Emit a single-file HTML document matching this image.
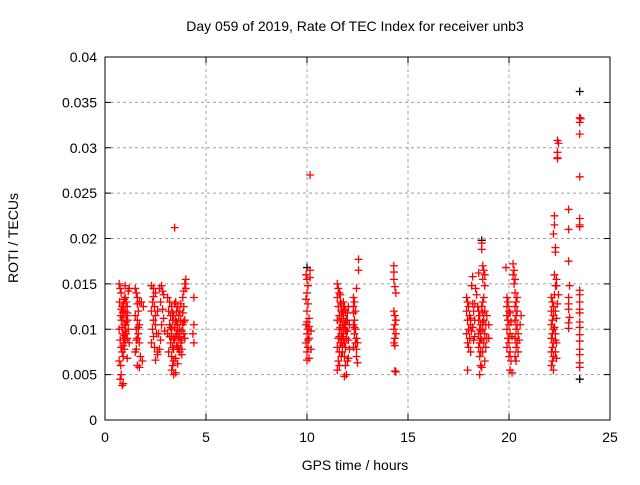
<!DOCTYPE html>
<html><head><meta charset="utf-8"><style>
body{margin:0;background:#fff;}
svg text{font-family:"Liberation Sans",sans-serif;fill:#000;}
</style></head><body>
<svg id="chart" width="640" height="480" xmlns="http://www.w3.org/2000/svg">
<rect width="640" height="480" fill="#fff"/>
<text x="355" y="31" font-size="14" text-anchor="middle">Day 059 of 2019, Rate Of TEC Index for receiver unb3</text>
<text x="355" y="470" font-size="14" text-anchor="middle">GPS time / hours</text>
<text transform="translate(18,238) rotate(-90)" font-size="14" text-anchor="middle">ROTI / TECUs</text>
<g id="grid"></g>
<g id="ticks"></g>
<g id="bpts"></g>
<g id="pts"></g>
<rect x="105" y="57" width="505" height="363" fill="none" stroke="#000" stroke-width="1"/>
</svg>
<script>
const xTicks=[0,5,10,15,20,25];
const yTicks=[0,0.005,0.01,0.015,0.02,0.025,0.03,0.035,0.04];
const yTickLabels=["0","0.005","0.01","0.015","0.02","0.025","0.03","0.035","0.04"];
// red points: [hour, roti]
const redPoints=[
[0.7,0.015],[0.75,0.0145],[0.8,0.014],[0.72,0.013],[0.85,0.0125],[0.9,0.012],[0.78,0.0115],[0.82,0.011],[0.95,0.0105],[0.7,0.010],[0.88,0.0095],[0.92,0.009],[0.75,0.0088],[1.0,0.0135],[1.05,0.013],[1.1,0.0125],[1.0,0.012],[1.08,0.0115],[1.12,0.011],[1.02,0.0105],[1.15,0.010],[1.05,0.0095],[1.1,0.009],[0.98,0.0085],[0.8,0.008],[0.85,0.0075],[0.9,0.007],[0.7,0.0065],[0.78,0.006],[0.8,0.005],[0.75,0.0045],[0.85,0.0038],[0.9,0.004],[1.2,0.0145],[1.2,0.0085],[1.0,0.0148],[0.95,0.0078],[1.1,0.0068],[1.15,0.0142],[0.88,0.0118],[1.0,0.0098],[0.92,0.0128],
[0.95,0.0133],[0.9,0.0113],[0.95,0.0093],[1.05,0.0108],[0.85,0.0102],[1.0,0.0088],[0.9,0.0082],[0.8,0.0122],[1.1,0.0118],
[1.5,0.0145],[1.55,0.014],[1.6,0.0135],[1.7,0.013],[1.65,0.012],[1.5,0.0115],[1.6,0.011],[1.7,0.0105],[1.55,0.010],[1.65,0.0095],[1.6,0.009],[1.7,0.0085],[1.5,0.0075],[1.75,0.007],[1.6,0.006],[1.7,0.0058],[1.8,0.013],[1.9,0.0125],[1.85,0.0065],[1.55,0.0078],[1.6,0.0128],[1.65,0.0102],[1.55,0.0088],
[2.3,0.0148],[2.4,0.0145],[2.5,0.014],[2.35,0.013],[2.45,0.0125],[2.3,0.012],[2.5,0.0115],[2.4,0.011],[2.35,0.010],[2.55,0.0095],[2.3,0.0085],[2.45,0.008],[2.6,0.0075],[2.7,0.0078],[2.8,0.0148],[2.7,0.0145],[2.75,0.013],[2.6,0.012],[2.8,0.0105],[2.65,0.0095],[2.75,0.0088],[2.85,0.0142],[2.5,0.0066],[2.6,0.0072],[2.4,0.0136],[2.9,0.0138],[2.85,0.0122],[2.9,0.0112],[2.95,0.0098],[2.5,0.0105],[2.4,0.0092],
[3.1,0.0135],[3.2,0.013],[3.3,0.0125],[3.15,0.012],[3.25,0.0115],[3.35,0.011],[3.2,0.0105],[3.3,0.010],[3.1,0.0095],[3.4,0.009],[3.25,0.0085],[3.35,0.008],[3.15,0.0075],[3.3,0.007],[3.4,0.0065],[3.35,0.006],[3.3,0.0055],[3.4,0.005],[3.5,0.0052],[3.45,0.0212],[3.5,0.013],[3.6,0.0125],[3.55,0.012],[3.65,0.0115],[3.5,0.011],[3.6,0.0105],[3.7,0.010],[3.55,0.0095],[3.65,0.009],[3.75,0.0085],[3.6,0.008],[3.7,0.0075],[3.8,0.0072],[3.85,0.0135],[3.9,0.0125],[3.95,0.011],[3.85,0.0105],[3.9,0.0095],[3.95,0.009],[3.8,0.0088],[4.0,0.0155],[3.95,0.015],[4.0,0.0145],[3.9,0.0142],[3.4,0.0115],[3.45,0.0102],[3.5,0.0092],[3.55,0.0082],[3.7,0.012],[3.75,0.011],[3.8,0.0098],[3.2,0.0092],[3.3,0.0092],
[3.45,0.0128],[3.55,0.0108],[3.6,0.0098],[3.45,0.0088],[3.65,0.0078],[3.4,0.0078],[3.5,0.0068],[3.6,0.0062],[3.75,0.0128],[3.85,0.0118],[3.9,0.0108],[3.8,0.0078],[3.7,0.0092],[3.25,0.0102],[3.35,0.0118],
[4.4,0.0135],[4.4,0.0105],[4.35,0.0095],[4.4,0.0085],
[9.95,0.016],[10.0,0.0155],[10.05,0.0148],[10.0,0.014],[9.95,0.0133],[10.05,0.0128],[10.0,0.012],[10.1,0.0112],[9.95,0.0105],[10.05,0.010],[10.0,0.0095],[10.1,0.009],[9.95,0.0085],[10.05,0.008],[10.0,0.0075],[10.1,0.0068],[10.0,0.0066],[10.15,0.027],[10.15,0.0165],[10.15,0.0157],[10.2,0.0098],[10.2,0.0078],[10.1,0.0103],[10.0,0.0108],[10.05,0.0088],
[11.5,0.015],[11.55,0.0145],[11.6,0.014],[11.5,0.0135],[11.65,0.013],[11.55,0.0125],[11.7,0.012],[11.6,0.0115],[11.5,0.011],[11.75,0.0105],[11.6,0.010],[11.7,0.0095],[11.55,0.009],[11.65,0.0085],[11.5,0.008],[11.6,0.0075],[11.7,0.007],[11.55,0.0065],[11.6,0.006],[11.5,0.0055],[11.8,0.013],[11.85,0.0125],[11.9,0.012],[11.8,0.0115],[11.95,0.011],[11.85,0.0105],[11.9,0.010],[11.8,0.0095],[11.95,0.009],[11.85,0.0085],[11.9,0.008],[11.75,0.0075],[11.85,0.007],[12.0,0.0065],[11.9,0.006],[11.95,0.005],[11.85,0.0048],[12.05,0.0125],[12.0,0.011],[12.1,0.0105],[12.0,0.0098],[12.05,0.0088],[12.1,0.0078],[12.05,0.0068],[11.7,0.0112],[11.65,0.0102],[11.75,0.0092],
[11.7,0.0128],[11.8,0.0122],[11.75,0.0118],[11.65,0.0108],[11.8,0.0102],[11.7,0.0085],[11.75,0.0082],[11.8,0.0088],[11.6,0.0092],[11.9,0.0108],[11.95,0.0098],[12.0,0.0118],[11.65,0.0138],
[12.3,0.0135],[12.35,0.013],[12.3,0.0125],[12.4,0.012],[12.35,0.011],[12.3,0.0105],[12.4,0.010],[12.35,0.0095],[12.45,0.009],[12.4,0.0085],[12.3,0.008],[12.45,0.0078],[12.5,0.0085],[12.5,0.0063],[12.45,0.007],[12.55,0.0177],[12.55,0.0165],[12.45,0.0145],[12.3,0.0118],[12.35,0.0102],
[14.3,0.017],[14.3,0.0163],[14.3,0.0155],[14.35,0.0147],[14.4,0.014],[14.3,0.012],[14.35,0.0115],[14.4,0.011],[14.35,0.0105],[14.3,0.010],[14.4,0.0095],[14.35,0.009],[14.3,0.0085],[14.35,0.0082],[14.4,0.0053],[14.35,0.0054],
[17.9,0.0135],[17.95,0.013],[18.0,0.0125],[17.9,0.012],[18.05,0.0115],[17.95,0.011],[18.1,0.0105],[18.0,0.010],[17.9,0.0095],[18.05,0.009],[17.95,0.0085],[18.0,0.008],[18.1,0.0075],[17.95,0.0055],[18.15,0.0148],[18.2,0.0158],[18.25,0.012],[18.3,0.011],[18.2,0.0102],[18.3,0.0092],[18.25,0.0088],[18.35,0.0145],[18.4,0.0138],[18.2,0.0128],[18.1,0.0112],[18.15,0.0098],[18.3,0.0128],
[18.45,0.0125],[18.5,0.012],[18.55,0.0115],[18.5,0.011],[18.6,0.0105],[18.55,0.010],[18.5,0.0095],[18.6,0.009],[18.55,0.0085],[18.5,0.008],[18.6,0.0075],[18.55,0.007],[18.6,0.006],[18.55,0.005],[18.65,0.0195],[18.65,0.0188],[18.7,0.017],[18.75,0.0165],[18.8,0.016],[18.7,0.0155],[18.8,0.0148],[18.75,0.0135],[18.7,0.013],[18.8,0.012],[18.9,0.0115],[18.75,0.011],[18.85,0.0105],[18.7,0.010],[18.8,0.0095],[18.9,0.009],[18.75,0.0085],[18.85,0.008],[18.7,0.0075],[18.8,0.0065],[18.65,0.0058],[19.0,0.0105],[19.0,0.009],[18.5,0.0162],[18.65,0.0125],[18.7,0.0118],[18.6,0.0098],[18.65,0.0088],[18.7,0.0108],
[19.85,0.0168],[19.9,0.0135],[19.95,0.013],[19.9,0.0125],[20.0,0.012],[19.9,0.0115],[19.95,0.011],[20.0,0.0105],[19.9,0.010],[20.05,0.0095],[19.95,0.009],[20.0,0.0085],[19.9,0.008],[20.05,0.0075],[20.0,0.007],[20.1,0.0065],[20.05,0.0055],[20.15,0.0052],[20.2,0.0172],[20.25,0.0165],[20.2,0.016],[20.3,0.0155],[20.25,0.015],[20.3,0.014],[20.35,0.013],[20.3,0.0125],[20.4,0.012],[20.35,0.0115],[20.3,0.011],[20.4,0.0105],[20.35,0.010],[20.45,0.0095],[20.3,0.009],[20.4,0.0085],[20.35,0.008],[20.45,0.0075],[20.3,0.007],[20.35,0.0065],[20.55,0.0105],[20.5,0.0088],[20.6,0.0115],[20.1,0.0108],[20.15,0.0092],[20.05,0.0118],[20.4,0.0135],
[22.1,0.0135],[22.15,0.013],[22.2,0.0125],[22.1,0.012],[22.2,0.0115],[22.15,0.011],[22.1,0.0105],[22.2,0.010],[22.15,0.0095],[22.1,0.009],[22.2,0.0085],[22.15,0.008],[22.1,0.0075],[22.2,0.007],[22.15,0.0065],[22.1,0.006],[22.2,0.0055],[22.25,0.0225],[22.25,0.0215],[22.2,0.0205],[22.3,0.019],[22.3,0.0185],[22.25,0.016],[22.35,0.0155],[22.3,0.0148],[22.25,0.0138],[22.3,0.012],[22.35,0.0112],[22.3,0.0095],[22.35,0.0085],[22.3,0.0075],[22.35,0.0068],[22.4,0.0295],[22.45,0.0305],[22.4,0.0288],[22.4,0.0289],[22.45,0.0138],[22.4,0.0128],[22.4,0.0308],[22.25,0.0102],[22.3,0.0088],[22.35,0.0148],
[22.95,0.0232],[22.95,0.021],[22.95,0.0175],[23.0,0.0148],[22.95,0.0135],[22.95,0.0128],[22.95,0.0122],[23.0,0.0113],[22.95,0.0107],[22.95,0.0101],
[23.5,0.0333],[23.5,0.0328],[23.55,0.0332],[23.5,0.0315],[23.5,0.0268],[23.5,0.0222],[23.5,0.0215],[23.5,0.0213],[23.5,0.0143],[23.5,0.0138],[23.5,0.013],[23.5,0.0122],[23.5,0.0118],[23.5,0.0108],[23.5,0.0102],[23.5,0.0094],[23.5,0.0087],[23.5,0.0078],[23.5,0.0072],[23.5,0.0063],[23.5,0.0058]
];
const blackPoints=[[10.0,0.0168],[18.65,0.0198],[23.5,0.0362],[23.5,0.0045]];
const X0=105,X1=610,Y0=420,Y1=57;
const sx=v=>X0+(v-0)/25*(X1-X0);
const sy=v=>Y0-(v-0)/0.04*(Y0-Y1);
const NS="http://www.w3.org/2000/svg";
function mk(t,a,p){const e=document.createElementNS(NS,t);for(const k in a)e.setAttribute(k,a[k]);p.appendChild(e);return e;}
const grid=document.getElementById('grid'),ticks=document.getElementById('ticks');
xTicks.forEach(t=>{const x=sx(t);
 if(t>0&&t<25){const g=mk('line',{x1:x,x2:x,y1:Y0,y2:Y1,stroke:'#a0a0a0','stroke-dasharray':'3,3'},grid);
 
 }
 mk('line',{x1:x,x2:x,y1:Y0,y2:Y0-6,stroke:'#000'},ticks);mk('line',{x1:x,x2:x,y1:Y1,y2:Y1+6,stroke:'#000'},ticks);
 const tx=mk('text',{x:x,y:Y0+22,'font-size':14,'text-anchor':'middle'},ticks);tx.textContent=t;
 
 });
yTicks.forEach((t,i)=>{const y=sy(t);
 if(i>0&&i<yTicks.length-1){const g=mk('line',{x1:X0,x2:X1,y1:y,y2:y,stroke:'#a0a0a0','stroke-dasharray':'3,3'},grid);
 
 }
 mk('line',{x1:X0,x2:X0+6,y1:y,y2:y,stroke:'#000'},ticks);mk('line',{x1:X1,x2:X1-6,y1:y,y2:y,stroke:'#000'},ticks);
 const tx=mk('text',{x:X0-8,y:y+5,'font-size':14,'text-anchor':'end'},ticks);tx.textContent=yTickLabels[i];
 
 });
function plus(p,col,g){const x=sx(p[0]),y=sy(p[1]);
 const e=mk('path',{d:`M${x-4} ${y}H${x+4}M${x} ${y-4}V${y+4}`,stroke:col,'stroke-width':1.3,fill:'none'},g);
 
 }
const pg=document.getElementById('pts'),bg=document.getElementById('bpts');
blackPoints.forEach(p=>plus(p,'#000',bg));
redPoints.forEach(p=>plus(p,'#ff0000',pg));
</script>
</body></html>
